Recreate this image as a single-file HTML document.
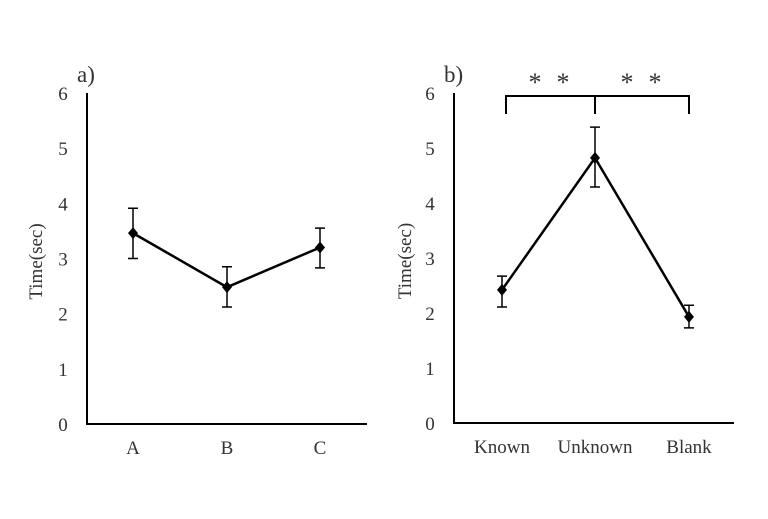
<!DOCTYPE html>
<html><head><meta charset="utf-8"><style>
html,body{margin:0;padding:0;background:#fff;}
svg text{font-family:"Liberation Serif",serif;fill:#333;}
</style></head><body>
<svg id="c" width="768" height="514" xmlns="http://www.w3.org/2000/svg"></svg>
<script>
const catsA = ["A","B","C"];
const valsA = [3.46, 2.48, 3.2];
const errHiA = [3.91, 2.85, 3.55];
const errLoA = [3.0, 2.12, 2.83];
const catsB = ["Known","Unknown","Blank"];
const valsB = [2.42, 4.82, 1.93];
const errHiB = [2.67, 5.38, 2.14];
const errLoB = [2.11, 4.29, 1.73];
const yTicks = [0,1,2,3,4,5,6];

const svg = document.getElementById('c');
const NS = 'http://www.w3.org/2000/svg';
function mk(tag, attrs, parent){
  const e = document.createElementNS(NS, tag);
  for (const k in attrs) e.setAttribute(k, attrs[k]);
  (parent||svg).appendChild(e);
  return e;
}
function panel(cfg, cats, vals, hi, lo, name){
  const g = mk('g', {});
  
  
  const y = v => cfg.y0 - v*(cfg.y0-cfg.y6)/6;
  const x = i => cfg.xs[i];
  const ax = mk('path', {d:`M${cfg.ax} ${cfg.y6} V${cfg.y0} H${cfg.axEnd}`, stroke:'#000', 'stroke-width':2, fill:'none'}, g);
  
  
  yTicks.forEach(t=>{
    const tx = mk('text', {x:cfg.ax-24, y:y(t)+7, 'text-anchor':'middle', 'font-size':19}, g);
    tx.textContent = t;
    
    
  });
  cats.forEach((c,i)=>{
    const tx = mk('text', {x:x(i), y:cfg.y0+30, 'text-anchor':'middle', 'font-size':19}, g);
    tx.textContent = c;
    
    
  });
  const yl = mk('text', {x:0, y:0, 'text-anchor':'middle', 'font-size':19, transform:`translate(${cfg.labelX},${(cfg.y0+cfg.y6)/2+3}) rotate(-90)`}, g);
  yl.textContent = 'Time(sec)';
  
  
  const pl = mk('text', {x:cfg.ax-10, y:cfg.y6-11, 'font-size':23, fill:'#000'}, g);
  pl.textContent = cfg.label;
  
  
  const line = mk('polyline', {points: vals.map((v,i)=>`${x(i)},${y(v)}`).join(' '), stroke:'#000', 'stroke-width':2.5, fill:'none'}, g);
  
  
  vals.forEach((v,i)=>{
    const eb = mk('path', {d:`M${x(i)} ${y(hi[i])} V${y(lo[i])} M${x(i)-5} ${y(hi[i])} H${x(i)+5} M${x(i)-5} ${y(lo[i])} H${x(i)+5}`, stroke:'#000', 'stroke-width':1.5, fill:'none'}, g);
    
    
    const m = mk('path', {d:`M${x(i)} ${y(v)-6} L${x(i)+5} ${y(v)} L${x(i)} ${y(v)+6} L${x(i)-5} ${y(v)} Z`, fill:'#000'}, g);
    
    
  });
  return g;
}
panel({ax:87, axEnd:367, y0:424, y6:93, xs:[133,227,320], labelX:42, label:'a)'}, catsA, valsA, errHiA, errLoA, 'chart-a');
const gb = panel({ax:454, axEnd:734, y0:423, y6:93, xs:[502,595,689], labelX:411, label:'b)'}, catsB, valsB, errHiB, errLoB, 'chart-b');
const br = mk('path', {d:'M506 114 V96 H689 V114 M595 96 V114', stroke:'#000', 'stroke-width':2, fill:'none'}, gb);


[535,563,627,655].forEach(cx=>{
  const s = mk('text', {x:cx, y:91, 'text-anchor':'middle', 'font-size':26, 'font-family':'"DejaVu Sans",sans-serif', fill:'#000'}, gb);
  s.textContent = '*';
  
  
});
</script>
</body></html>
